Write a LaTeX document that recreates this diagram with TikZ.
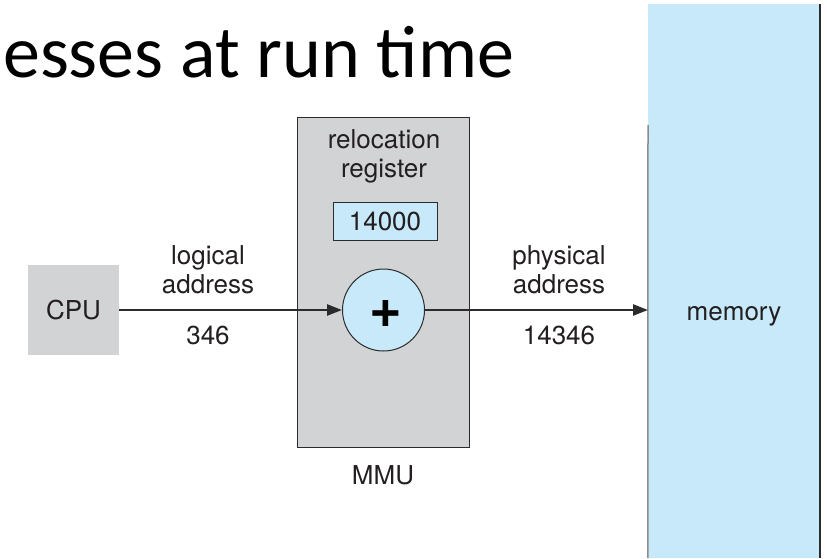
\documentclass[tikz,border=0pt]{standalone}
\usepackage{fontspec}
\setmainfont{TeX Gyre Heros}
\newfontfamily\titlefont{Carlito}
\usetikzlibrary{arrows.meta}
\definecolor{boxgray}{HTML}{D1D3D4}
\definecolor{lblue}{HTML}{C7E9F9}
\definecolor{edge}{HTML}{2B2B2B}
\definecolor{ink}{HTML}{231F20}
\definecolor{memedge}{HTML}{8A8C8E}
\tikzset{
  lbl/.style={font=\fontsize{26}{29}\selectfont, align=center, text=ink},
  cpubox/.style={lbl, fill=boxgray, minimum width=91pt, minimum height=90pt, inner sep=0pt},
  mmubox/.style={fill=boxgray, draw=edge, line width=1pt, minimum width=172pt, minimum height=330pt, inner sep=0pt},
  regbox/.style={lbl, fill=lblue, draw=edge, line width=1pt, minimum width=104pt, minimum height=38.5pt, inner sep=0pt},
  adder/.style={circle, fill=lblue, draw=edge, line width=1pt, minimum size=82pt, inner sep=0pt},
  membox/.style={fill=lblue, minimum width=172pt, minimum height=554pt, inner sep=0pt},
  arr/.style={line width=2.4pt, draw=edge, -{Triangle[length=15pt,width=11pt]}},
}
\begin{document}
\begin{tikzpicture}[x=1pt,y=-1pt]
\useasboundingbox (0,0) rectangle (827,558);
% title
\node[anchor=base west, inner sep=0pt, font=\titlefont\fontsize{74}{84}\selectfont] (title) at (3,77) {esses at run time};
% memory
\node[membox] (mem) at (734,281) {};
\node[lbl, anchor=base] (memlbl) at (734,320) {memory};
\coordinate (memtop) at (648,125);
\draw[memedge, line width=1.5pt] (memtop) -- (mem.south west);
\draw[edge, line width=1.5pt] (mem.north east) -- (mem.south east);
% CPU
\node[cpubox] (cpu) at (73.5,310) {CPU};
% MMU
\node[mmubox] (mmu) at (383,282) {};
\node[lbl] (mmulbl) at (383,475) {MMU};
\node[lbl] (rl) at (384,156) {relocation\\register};
\node[regbox] (reg) at (385,221.5) {14000};
\node[adder] (add) at (383.5,310) {};
\node[font=\fontsize{56}{56}\selectfont\bfseries, text=black, inner sep=0pt] (plus) at (386,314) {+};
% arrows
\draw[arr] (cpu.east) -- (add.west);
\coordinate (memin) at (648,310);
\draw[arr] (add.east) -- (memin);
% labels
\node[lbl] (la) at (208,269.5) {logical\\address};
\node[lbl] (ln) at (208,335) {346};
\node[lbl] (pa) at (559,269.5) {physical\\address};
\node[lbl] (pn) at (559,335) {14346};
\end{tikzpicture}
\end{document}
